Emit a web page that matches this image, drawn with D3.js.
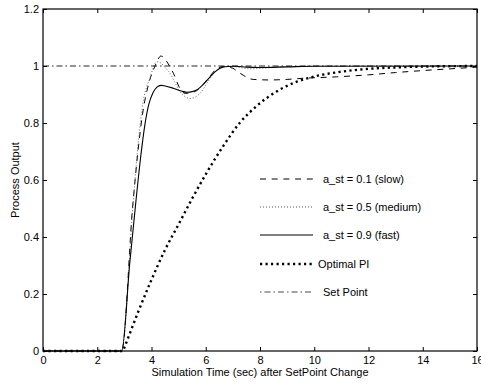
<!DOCTYPE html>
<html>
<head>
<meta charset="utf-8">
<script src="https://cdn.jsdelivr.net/npm/d3@7/dist/d3.min.js"></script>
<style>
  html, body { margin: 0; padding: 0; background: #fff; }
  svg { display: block; font-family: "Liberation Sans", Arial, Helvetica, sans-serif; }
</style>
</head>
<body>
<svg id="chart" width="481" height="385"></svg>
<script>
// ---- data ----
const xTicks = [0, 2, 4, 6, 8, 10, 12, 14, 16];
const yTicks = [0, 0.2, 0.4, 0.6, 0.8, 1, 1.2];
const yTickLabels = ["0", "0.2", "0.4", "0.6", "0.8", "1", "1.2"];

const slowT = [0, 2.9, 3.3, 3.5, 3.7, 3.85, 4.0, 4.13, 4.25, 4.34, 4.45, 4.6, 4.81, 5.05, 5.24, 5.45, 5.67, 5.9, 6.16, 6.4, 6.65, 7.0, 7.2, 7.38, 7.55, 7.75, 8.37, 9.0, 9.6, 10.83, 12, 13, 14, 15, 16];
const slowY = [0, 0, 0.5, 0.70, 0.85, 0.92, 0.97, 1.0, 1.025, 1.035, 1.03, 1.01, 0.974, 0.921, 0.904, 0.906, 0.914, 0.935, 0.965, 0.99, 0.998, 0.992, 0.978, 0.968, 0.958, 0.953, 0.951, 0.953, 0.957, 0.962, 0.969, 0.977, 0.984, 0.99, 0.996];

const medT = [0, 2.9, 3.33, 3.5, 3.7, 3.85, 3.94, 4.05, 4.19, 4.35, 4.5, 4.68, 4.85, 5.05, 5.25, 5.42, 5.6, 5.8, 6.04, 6.3, 6.53, 6.8, 7.1, 7.6, 8.2, 9.0, 10, 16];
const medY = [0, 0, 0.53, 0.72, 0.88, 0.935, 0.957, 0.99, 1.015, 1.01, 0.995, 0.975, 0.945, 0.91, 0.892, 0.886, 0.89, 0.905, 0.939, 0.975, 0.992, 0.999, 0.997, 0.99, 0.993, 0.998, 1.0, 1.0];

const fastT = [0, 2.9, 3.2, 3.43, 3.6, 3.75, 3.9, 4.05, 4.2, 4.35, 4.5, 4.8, 5.1, 5.3, 5.5, 5.7, 5.9, 6.16, 6.35, 6.53, 6.8, 7.1, 7.5, 8.0, 9.0, 10, 16];
const fastY = [0, 0, 0.31, 0.53, 0.68, 0.79, 0.865, 0.905, 0.926, 0.932, 0.93, 0.922, 0.912, 0.908, 0.91, 0.918, 0.935, 0.962, 0.98, 0.992, 0.998, 0.999, 0.996, 0.995, 0.997, 0.999, 1.0];

const piT = [0, 2.95, 3.0, 3.5, 4.0, 4.5, 5.03, 5.5, 6.0, 6.65, 7.25, 7.88, 8.6, 9.36, 10, 11, 12, 13, 14, 16];
const piY = [0, 0, 0.012, 0.135, 0.25, 0.355, 0.45, 0.535, 0.62, 0.72, 0.80, 0.86, 0.91, 0.945, 0.963, 0.98, 0.99, 0.995, 0.998, 1.0];

const setT = [0, 16];
const setY = [1, 1];

const legendLabels = ["a_st = 0.1 (slow)", "a_st = 0.5 (medium)", "a_st = 0.9 (fast)", "Optimal PI", "Set Point"];
const xLabel = "Simulation Time (sec) after SetPoint Change";
const yLabel = "Process Output";

// ---- layout ----
const W = 481, H = 385;
const m = { left: 43, right: 4, top: 9, bottom: 34 };
const svg = d3.select("#chart");

const x = d3.scaleLinear().domain([0, 16]).range([m.left, W - m.right]);
const y = d3.scaleLinear().domain([0, 1.2]).range([H - m.bottom, m.top]);

const styles = [
  { stroke: "#000", width: 1, dash: "6 5.7" },
  { stroke: "#555", width: 0.9, dash: "1 2" },
  { stroke: "#000", width: 1.1, dash: null },
  { stroke: "#000", width: 2.4, dash: "2.2 3.3" },
  { stroke: "#707070", width: 1.6, dash: "6 3 1.5 3" }
];
const series = [
  { t: slowT, v: slowY },
  { t: medT, v: medY },
  { t: fastT, v: fastY },
  { t: piT, v: piY },
  { t: setT, v: setY }
];

const line = d3.line().x(d => x(d[0])).y(d => y(d[1])).curve(d3.curveMonotoneX);

const plot = svg.append("g");
[4, 3, 0, 1, 2].forEach(i => {
  const s = series[i], st = styles[i];
  const pts = s.t.map((t, j) => [t, s.v[j]]);
  plot.append("path")
    .attr("d", line(pts))
    .attr("fill", "none")
    .attr("stroke", st.stroke)
    .attr("stroke-width", st.width)
    .attr("stroke-dasharray", st.dash);
});

// ---- axes ----
const fontSize = 11;
const xAxis = svg.append("g").attr("transform", `translate(0,${H - m.bottom})`)
  .call(d3.axisBottom(x).tickValues(xTicks).tickSize(-4).tickSizeOuter(0).tickPadding(5).tickFormat(d3.format("d")));
const yAxis = svg.append("g").attr("transform", `translate(${m.left},0)`)
  .call(d3.axisLeft(y).tickValues(yTicks).tickSize(-4).tickSizeOuter(0).tickPadding(4).tickFormat((d, i) => yTickLabels[i]));
const xTop = svg.append("g").attr("transform", `translate(0,${m.top})`)
  .call(d3.axisTop(x).tickValues(xTicks).tickSize(-4).tickSizeOuter(0).tickFormat(""));
const yRight = svg.append("g").attr("transform", `translate(${W - m.right},0)`)
  .call(d3.axisRight(y).tickValues(yTicks).tickSize(-4).tickSizeOuter(0).tickFormat(""));

[xAxis, yAxis, xTop, yRight].forEach(g => {
  g.select(".domain").remove();
  g.selectAll("line").attr("stroke", "#000");
  g.selectAll("text").attr("fill", "#000").style("font-size", fontSize + "px")
    .style("font-family", '"Liberation Sans", Arial, sans-serif');
});

svg.append("rect")
  .attr("x", m.left).attr("y", m.top)
  .attr("width", W - m.left - m.right).attr("height", H - m.top - m.bottom)
  .attr("fill", "none").attr("stroke", "#000").attr("stroke-width", 1.2);

// axis labels
svg.append("text")
  .attr("x", (m.left + W - m.right) / 2).attr("y", 376)
  .attr("text-anchor", "middle").style("font-size", fontSize + "px").text(xLabel);
svg.append("text")
  .attr("transform", `translate(15,${(m.top + H - m.bottom) / 2}) rotate(-90)`)
  .attr("text-anchor", "middle").attr("dy", "0.35em").style("font-size", fontSize + "px").text(yLabel);

// ---- legend ----
const legRows = [179, 207, 235, 264, 292];
const legX = [323, 323, 323, 318, 323];
const legStyles = [
  { stroke: "#000", width: 1, dash: "6 5.7" },
  { stroke: "#444", width: 0.9, dash: "1 2" },
  { stroke: "#000", width: 1.1, dash: null },
  { stroke: "#000", width: 2.4, dash: "2.2 3.3" },
  { stroke: "#333", width: 0.9, dash: "1.5 3 6 3" }
];
const leg = svg.append("g");
legendLabels.forEach((lab, i) => {
  const st = legStyles[i];
  leg.append("line")
    .attr("x1", 260).attr("x2", 313).attr("y1", legRows[i]).attr("y2", legRows[i])
    .attr("stroke", st.stroke).attr("stroke-width", st.width).attr("stroke-dasharray", st.dash);
  leg.append("text")
    .attr("x", legX[i]).attr("y", legRows[i]).attr("dy", "0.35em")
    .style("font-size", fontSize + "px").text(lab);
});
</script>
</body>
</html>
